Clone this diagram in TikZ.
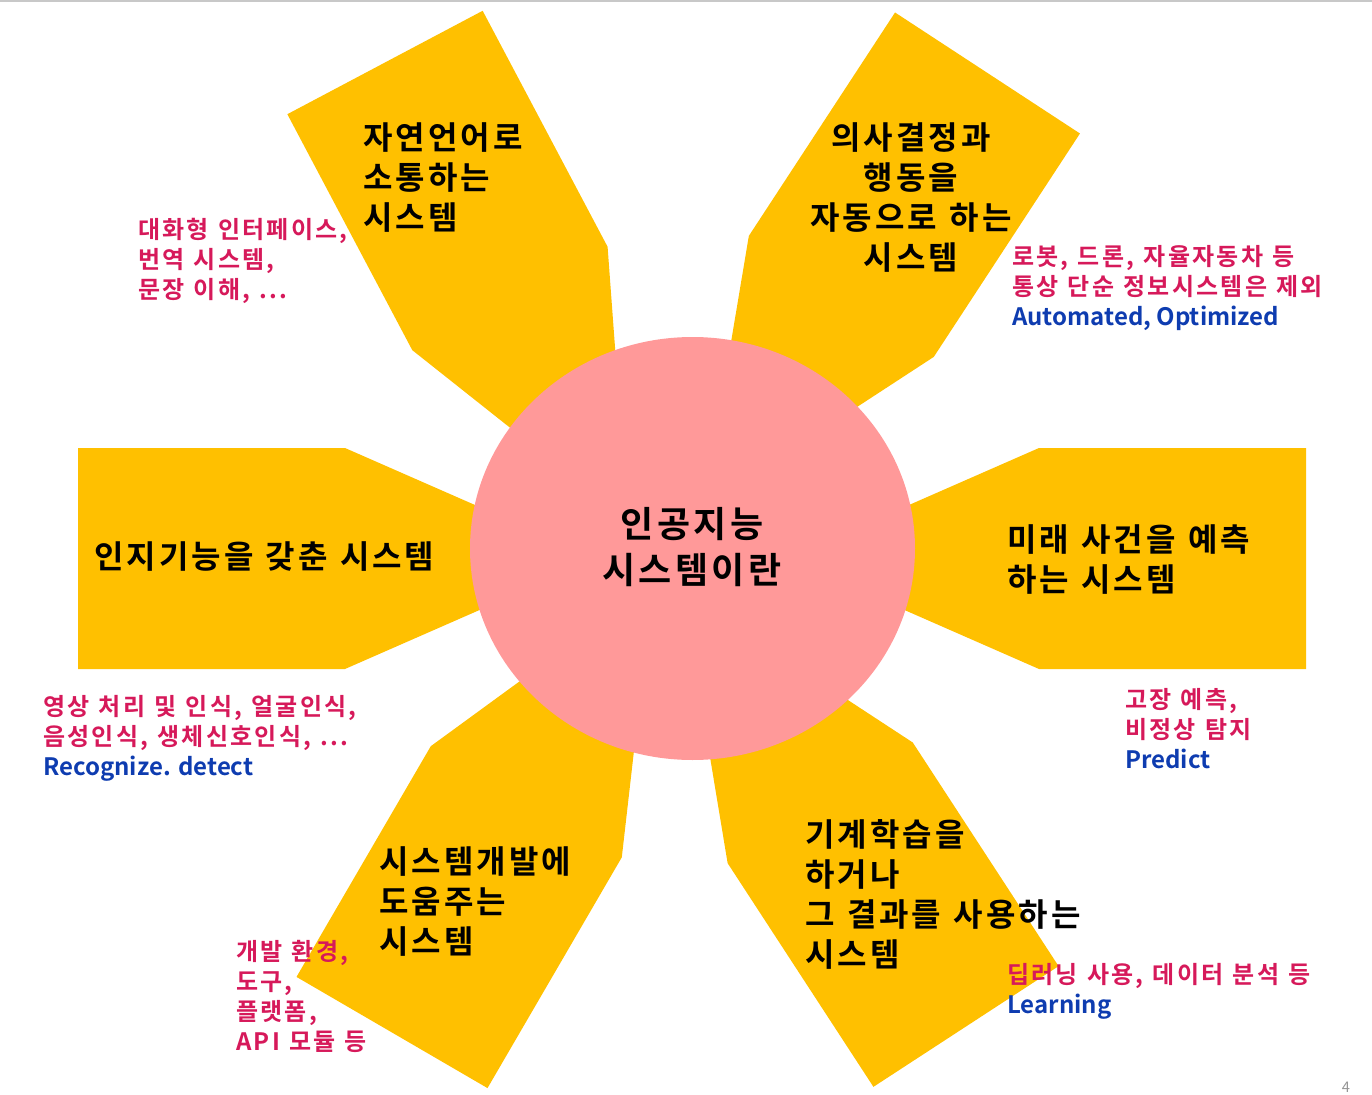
\documentclass[tikz,border=0pt]{standalone}
\usepackage{fontspec}
\setmainfont{Noto Sans CJK KR}[BoldFont={Noto Sans CJK KR Bold}, LetterSpace=9.4, WordSpace=1.2]
\newfontfamily\latinfont{Noto Sans CJK KR}[BoldFont={Noto Sans CJK KR Bold}]
\usepackage{tikz}
\definecolor{notered}{RGB}{214,25,90}
\definecolor{noteblue}{RGB}{14,60,176}
\newcommand{\engnote}[1]{\textcolor{noteblue}{\latinfont\bfseries #1}}
\tikzset{
  petal/.style={fill={rgb, 255:red, 255; green, 192; blue, 0 }, draw=none},
  hub/.style={fill={rgb, 255:red, 255; green, 153; blue, 153 }, draw=none},
  lbl/.style={inner sep=0.75pt, font=\bfseries\fontsize{24}{30}\selectfont, align=left},
  note/.style={inner sep=0.75pt, font=\bfseries\fontsize{18}{22.5}\selectfont, align=left, text=notered},
}

\begin{document}
\begin{tikzpicture}[x=0.75pt,y=0.75pt,yscale=-1,xscale=1]
\useasboundingbox (0,0) rectangle (1372,1095);
%Straight Lines [top border]
\draw [color={rgb, 255:red, 200; green, 200; blue, 200 }, line width=1.2pt] (0,0.8) -- (1372,0.8) ;

%Shape: Pentagon Arrow [NW]
\begin{scope}[shift={(385,62.5)}, rotate=62.1]
\fill [petal] (0,-110.5) -- (267,-110.5) -- (519,0) -- (267,110.5) -- (0,110.5) -- cycle ;
\end{scope}
%Shape: Pentagon Arrow [NE]
\begin{scope}[shift={(987.5,73)}, rotate=123.2]
\fill [petal] (0,-110.5) -- (267,-110.5) -- (519,0) -- (267,110.5) -- (0,110.5) -- cycle ;
\end{scope}
%Shape: Pentagon Arrow [W]
\begin{scope}[shift={(78,558.5)}, rotate=0]
\fill [petal] (0,-110.5) -- (267,-110.5) -- (519,0) -- (267,110.5) -- (0,110.5) -- cycle ;
\end{scope}
%Shape: Pentagon Arrow [E]
\begin{scope}[shift={(1306,558.5)}, rotate=180]
\fill [petal] (0,-110.5) -- (267,-110.5) -- (519,0) -- (267,110.5) -- (0,110.5) -- cycle ;
\end{scope}
%Shape: Pentagon Arrow [SW]
\begin{scope}[shift={(392,1032.5)}, rotate=-59.8]
\fill [petal] (0,-110.5) -- (267,-110.5) -- (519,0) -- (267,110.5) -- (0,110.5) -- cycle ;
\end{scope}
%Shape: Pentagon Arrow [SE]
\begin{scope}[shift={(966,1026.5)}, rotate=-123.1]
\fill [petal] (0,-110.5) -- (267,-110.5) -- (519,0) -- (267,110.5) -- (0,110.5) -- cycle ;
\end{scope}

%Shape: Ellipse [hub]
\fill [hub] (692.5,548.5) ellipse [x radius=222.5, y radius=211.5] ;

% Text Node
\node [font=\bfseries\fontsize{27}{34}\selectfont, align=center, inner sep=0.75pt] (ai) at (692,547) {인공지능\\시스템이란};
% Text Node
\node [lbl, anchor=west] (nlp) at (362,178) {자연언어로\\소통하는\\시스템};
% Text Node
\node [lbl, align=center] (act) at (911,198) {의사결정과\\행동을\\자동으로 하는\\시스템};
% Text Node
\node [lbl, anchor=west] (cog) at (93,557) {인지기능을 갖춘 시스템};
% Text Node
\node [lbl, anchor=west] (pred) at (1006,560) {미래 사건을 예측\\하는 시스템};
% Text Node
\node [lbl, anchor=west] (dev) at (378,902) {시스템개발에\\도움주는\\시스템};
% Text Node
\node [lbl, anchor=west] (ml) at (804,894) {기계학습을\\하거나\\그 결과를 사용하는\\시스템};

% Text Node
\node [note, anchor=west] (nlpnote) at (137,261) {대화형 인터페이스,\\번역 시스템,\\문장 이해, ...};
% Text Node
\node [note, anchor=west] (actnote) at (1011,288) {로봇, 드론, 자율자동차 등\\통상 단순 정보시스템은 제외\\\engnote{Automated, Optimized}};
% Text Node
\node [note, anchor=west] (cognote) at (42,738) {영상 처리 및 인식, 얼굴인식,\\음성인식, 생체신호인식, ...\\\engnote{Recognize. detect}};
% Text Node
\node [note, anchor=west] (prednote) at (1124,729) {고장 예측,\\비정상 탐지\\\engnote{Predict}};
% Text Node
\node [note, anchor=west] (devnote) at (235,996) {개발 환경,\\도구,\\플랫폼,\\API 모듈 등};
% Text Node
\node [note, anchor=west] (mlnote) at (1006,991) {딥러닝 사용, 데이터 분석 등\\\engnote{Learning}};

% Text Node
\node [anchor=south, inner sep=0pt, text={rgb, 255:red, 150; green, 150; blue, 150 }, font=\latinfont\fontsize{11}{13}\selectfont] (pageno) at (1346,1093) {4};
\end{tikzpicture}
\end{document}
